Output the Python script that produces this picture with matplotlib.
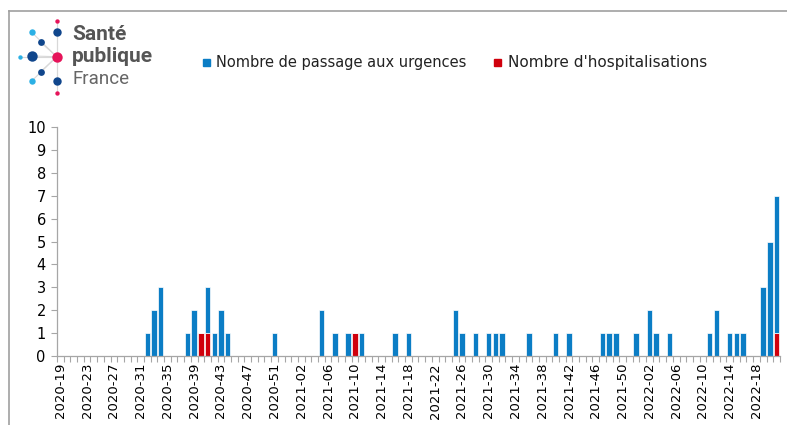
import numpy as np
import matplotlib.pyplot as plt
from matplotlib.lines import Line2D

# Weeks 2020-19 .. 2022-21
weeks = ([f"2020-{w:02d}" for w in range(19, 54)]
         + [f"2021-{w:02d}" for w in range(1, 53)]
         + [f"2022-{w:02d}" for w in range(1, 22)])

# Nombre de passage aux urgences (2020 weeks 19-53, 2021 weeks 1-52, 2022 weeks 1-21)
urg_2020 = [0, 0, 0, 0, 0, 0, 0, 0, 0, 0, 0, 0, 0,
            1, 2, 3, 0, 0, 0, 1, 2, 0, 2, 1, 2, 1,
            0, 0, 0, 0, 0, 0, 1, 0, 0]
urg_2021 = [0, 0, 0, 0, 2, 0, 1, 0, 1, 0, 1, 0, 0,
            0, 0, 1, 0, 1, 0, 0, 0, 0, 0, 0, 2, 1,
            0, 1, 0, 1, 1, 1, 0, 0, 0, 1, 0, 0, 0,
            1, 0, 1, 0, 0, 0, 0, 1, 1, 1, 0, 0, 1]
urg_2022 = [0, 2, 1, 0, 1, 0, 0, 0, 0, 0, 1, 2, 0,
            1, 1, 1, 0, 0, 3, 5, 6]

# Nombre d'hospitalisations
hosp_2020 = [0] * 35
hosp_2020[21] = 1   # 2020-40
hosp_2020[22] = 1   # 2020-41
hosp_2021 = [0] * 52
hosp_2021[9] = 1    # 2021-10
hosp_2022 = [0] * 21
hosp_2022[20] = 1   # 2022-21

urgences = np.array(urg_2020 + urg_2021 + urg_2022)
hospit = np.array(hosp_2020 + hosp_2021 + hosp_2022)

blue = '#0B7DC5'
red = '#D0000C'
grey = '#A6A6A6'

fig = plt.figure(figsize=(7.87, 4.25), dpi=100)
ax = fig.add_axes([0.0724, 0.1624, 0.9186, 0.5386])

x = np.arange(len(weeks))
ax.bar(x, hospit, width=0.82, color=red, edgecolor='white', linewidth=0.5)
ax.bar(x, urgences, width=0.82, bottom=hospit, color=blue, edgecolor='white', linewidth=0.5)

ax.set_xlim(-0.5, len(weeks) - 0.5)
ax.set_ylim(0, 10)
ax.set_yticks(range(0, 11))
ax.set_xticks(x[::4])
ax.set_xticklabels(weeks[::4], rotation=90, fontsize=9.5)
ax.set_xticks(np.arange(-0.5, len(weeks)), minor=True)
ax.tick_params(axis='x', which='major', length=0, pad=5)
ax.tick_params(axis='x', which='minor', length=4, color=grey, width=0.8)
ax.tick_params(axis='y', length=4, color=grey, width=0.8, labelsize=10.5, pad=4)
for s in ['top', 'right']:
    ax.spines[s].set_visible(False)
for s in ['left', 'bottom']:
    ax.spines[s].set_color(grey)
    ax.spines[s].set_linewidth(0.9)

# legend
fig.patches.append(plt.Rectangle((203 / 787, 1 - 66 / 425), 7 / 787, 7 / 425,
                                 color=blue, transform=fig.transFigure))
fig.text(216 / 787, 1 - 62.5 / 425, "Nombre de passage aux urgences",
         fontsize=10.5, va='center', ha='left', color='#222222')
fig.patches.append(plt.Rectangle((494 / 787, 1 - 66 / 425), 7 / 787, 7 / 425,
                                 color=red, transform=fig.transFigure))
fig.text(508 / 787, 1 - 62.5 / 425, "Nombre d'hospitalisations",
         fontsize=11, va='center', ha='left', color='#222222')

# frame
fig.add_artist(Line2D([9 / 787, 9 / 787], [0, 1 - 11 / 425], color='#A0A0A0', lw=1.2,
                      transform=fig.transFigure))
fig.add_artist(Line2D([9 / 787, 1], [1 - 11 / 425, 1 - 11 / 425], color='#A0A0A0', lw=1.2,
                      transform=fig.transFigure))

# logo
cx, cy = 56.7, 56.7
dots = [(56.7, 20.7, 2.2, '#E6145A'), (56.7, 31.7, 4.2, '#10468C'),
        (31.7, 32.3, 3.2, '#2BB0E5'), (40.7, 42.3, 3.4, '#10468C'),
        (20.0, 56.7, 2.2, '#2BB0E5'), (32.3, 56.0, 5.2, '#10468C'),
        (40.7, 71.7, 3.4, '#10468C'), (31.7, 81.0, 3.2, '#2BB0E5'),
        (56.7, 81.0, 4.2, '#10468C'), (56.7, 92.7, 2.2, '#E6145A')]
for dx, dy, r, c in dots:
    fig.add_artist(Line2D([cx / 787, dx / 787], [1 - cy / 425, 1 - dy / 425],
                          color='#D8D8D8', lw=0.8, transform=fig.transFigure))
for dx, dy, r, c in dots:
    fig.add_artist(Line2D([dx / 787], [1 - dy / 425], marker='o', ms=2 * r * 0.72,
                          color=c, mec='none', transform=fig.transFigure))
fig.add_artist(Line2D([cx / 787], [1 - cy / 425], marker='o', ms=5.2 * 2 * 0.72,
                      color='#E6145A', mec='none', transform=fig.transFigure))
fig.text(72 / 787, 1 - 35 / 425, "Santé", fontsize=15, fontweight='bold',
         family='Roboto', color='#555555', va='center')
fig.text(72 / 787, 1 - 57 / 425, "publique", fontsize=15, fontweight='bold',
         family='Roboto', color='#555555', va='center')
fig.text(72 / 787, 1 - 79 / 425, "France", fontsize=13.5, family='Roboto',
         color='#666666', va='center')

fig.savefig('out.png', dpi=100)
